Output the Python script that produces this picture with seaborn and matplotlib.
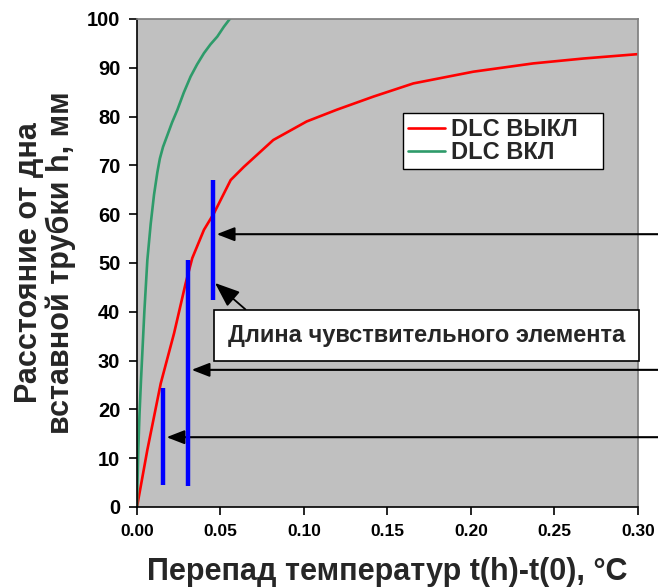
import pandas as pd
import matplotlib.pyplot as plt
import seaborn as sns

# Кривые: перепад температур (°C) и расстояние от дна (мм)
dlc_off_x = [0, 0.0062, 0.0142, 0.0222, 0.0291, 0.0331, 0.0401, 0.0461, 0.0561, 0.064,
             0.0816, 0.1016, 0.1196, 0.1416, 0.1655, 0.2014, 0.2373, 0.2673, 0.30]
dlc_off_y = [0, 11.7, 25.3, 35.6, 45.8, 51, 56.8, 60.2, 67, 69.7,
             75.2, 79, 81.4, 84.1, 86.8, 89.2, 90.9, 91.9, 92.8]
dlc_on_x = [0, 0.0003, 0.0008, 0.0015, 0.0024, 0.0034, 0.0044, 0.0062, 0.0082, 0.0102,
            0.0122, 0.0137, 0.0156, 0.0182, 0.021, 0.0242, 0.028, 0.0321, 0.036, 0.0401,
            0.044, 0.0481, 0.052, 0.0551, 0.057]
dlc_on_y = [0, 5, 12, 19, 26, 33, 40, 50.6, 58, 64,
            68.6, 71.4, 73.8, 76.2, 78.8, 81.4, 84.9, 88.2, 90.7, 93,
            94.8, 96.4, 98.4, 99.8, 100.6]

# Чувствительные элементы (синие отрезки)
elem_x = [0.0158, 0.0303, 0.0457]
elem_lo = [4.5, 4.3, 42.4]
elem_hi = [24.3, 50.6, 67.0]

# Стрелки справа
arrow_x = [0.0477, 0.0327, 0.0177]
arrow_y = [55.9, 28.1, 14.3]

curves = pd.concat([
    pd.DataFrame({"dt": dlc_off_x, "h": dlc_off_y, "s": "DLC ВЫКЛ"}),
    pd.DataFrame({"dt": dlc_on_x, "h": dlc_on_y, "s": "DLC ВКЛ"}),
])

sns.set_theme(style="ticks")
plt.rcParams["font.family"] = ["Liberation Sans", "DejaVu Sans"]
plt.rcParams["font.weight"] = "bold"

fig = plt.figure(figsize=(6.58, 5.88), dpi=100)
ax = fig.add_axes([0.2082, 0.1378, 0.7614, 0.8299])
ax.set_facecolor("#C0C0C0")

sns.lineplot(data=curves, x="dt", y="h", hue="s", sort=False, estimator=None,
             palette={"DLC ВЫКЛ": "#FF0000", "DLC ВКЛ": "#2E9B6A"},
             linewidth=1.9, ax=ax)

ax.vlines(elem_x, elem_lo, elem_hi, colors="#0000FF", linewidth=3.2, zorder=4)

for x, y in zip(arrow_x, arrow_y):
    ax.annotate("", xy=(x, y), xytext=(0.34, y), xycoords="data", textcoords="data",
                annotation_clip=False,
                arrowprops=dict(arrowstyle="-|>,head_length=0.9,head_width=0.35",
                                color="black", lw=1.5, shrinkA=0, shrinkB=0))

ax.annotate("Длина чувствительного элемента", xy=(0.0467, 45.9), xytext=(0.1734, 35.1),
            fontsize=17, fontweight="bold", ha="center", va="center",
            bbox=dict(boxstyle="square,pad=0.6", fc="white", ec="black", lw=1.2),
            arrowprops=dict(arrowstyle="-|>,head_length=0.9,head_width=0.35",
                            color="black", lw=1.3, shrinkA=0, shrinkB=0,
                            relpos=(0.087, 1.0)))

ax.set_xlim(0, 0.30)
ax.set_ylim(0, 100)
ax.set_xticks([0, 0.05, 0.10, 0.15, 0.20, 0.25, 0.30])
ax.set_xticklabels(["0.00", "0.05", "0.10", "0.15", "0.20", "0.25", "0.30"])
ax.set_yticks(range(0, 101, 10))
ax.tick_params(length=6, width=1.2, colors="black", pad=6)
ax.tick_params(axis="x", labelsize=12.5)
ax.tick_params(axis="y", labelsize=14.5)
for lab in ax.get_xticklabels() + ax.get_yticklabels():
    lab.set_fontweight("bold")

ax.spines["left"].set_color("black")
ax.spines["bottom"].set_color("black")
ax.spines["left"].set_linewidth(1.2)
ax.spines["bottom"].set_linewidth(1.2)
ax.spines["top"].set_color("#808080")
ax.spines["right"].set_color("#808080")

ax.set_xlabel("Перепад температур t(h)-t(0), °C", fontsize=22, fontweight="bold", labelpad=13)
ax.set_ylabel("Расстояние от дна\nвставной трубки h, мм", fontsize=22, fontweight="bold",
              labelpad=8, linespacing=1.05)

leg = ax.legend(loc="upper left", bbox_to_anchor=(0.5315, 0.692, 0.398, 0.116),
                mode="expand", fontsize=17,
                frameon=True, fancybox=False, edgecolor="black", facecolor="white",
                framealpha=1, handlelength=1.55, handletextpad=0.25, borderpad=0.22,
                borderaxespad=0, labelspacing=0.0)
leg.get_frame().set_linewidth(1.0)
for t in leg.get_texts():
    t.set_fontweight("bold")

fig.savefig("out.png", dpi=100)
